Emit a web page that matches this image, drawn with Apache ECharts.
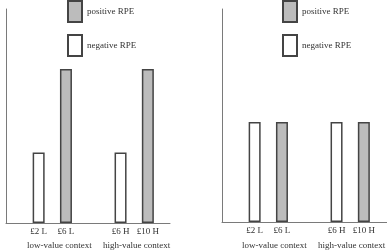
<!DOCTYPE html>
<html>
<head>
<meta charset="utf-8">
<script src="https://cdn.jsdelivr.net/npm/echarts@6/dist/echarts.min.js"></script>
<style>
  html, body { margin: 0; padding: 0; background: #fff; }
  #main { width: 387px; height: 252px; }
</style>
</head>
<body>
<div id="main"></div>
<script>
// categories (empty slot = gap between the two contexts)
var categories = ['£2 L', '£6 L', '', '£6 H', '£10 H'];
var contexts = ['low-value context', 'high-value context'];

// left panel: unequal RPE
var leftNegative = [3.3, '-', '-', 3.3, '-'];
var leftPositive = ['-', 7.2, '-', '-', 7.2];
// right panel: equal RPE
var rightNegative = [4.7, '-', '-', 4.7, '-'];
var rightPositive = ['-', 4.7, '-', '-', 4.7];

var font = 'Liberation Serif';
var axisColor = '#7a7a7a';
var edge = '#444';
var greyFill = '#bcbcbc';

var chart = echarts.init(document.getElementById('main'));

function frameX(i) {
  return {
    type: 'value', gridIndex: i, min: 0, max: 1,
    axisLine: { show: true, lineStyle: { color: axisColor, width: 1 } },
    axisTick: { show: false }, axisLabel: { show: false }, splitLine: { show: false }
  };
}
function frameY(i) {
  return {
    type: 'value', gridIndex: i, min: 0, max: 1,
    axisLine: { show: true, lineStyle: { color: axisColor, width: 1 } },
    axisTick: { show: false }, axisLabel: { show: false }, splitLine: { show: false }
  };
}
function barX(i) {
  return {
    type: 'category', gridIndex: i, data: categories,
    axisLine: { show: false }, axisTick: { show: false }, splitLine: { show: false },
    axisLabel: { margin: 4, color: '#333', fontFamily: font, fontSize: 9, interval: 0 }
  };
}
function barY(i) {
  return {
    type: 'value', gridIndex: i, min: 0, max: 10, show: false
  };
}
function bars(name, data, fill, idx) {
  return {
    name: name, type: 'bar', xAxisIndex: idx, yAxisIndex: idx,
    data: data, barWidth: 12, barGap: '-100%',
    itemStyle: { color: fill, borderColor: edge, borderWidth: 1.5 }
  };
}
function legendAt(left) {
  return {
    data: ['positive RPE', 'negative RPE'],
    orient: 'vertical', left: left, top: 0, padding: 0,
    itemWidth: 14, itemHeight: 21, itemGap: 11,
    icon: 'rect',
    textStyle: { fontFamily: font, fontSize: 9, color: '#333' }
  };
}
function contextText(x, text) {
  return {
    type: 'text', left: x, top: 241,
    style: { text: text, font: '9px "Liberation Serif"', fill: '#333' }
  };
}

chart.setOption({
  animation: false,
  grid: [
    { left: 6, width: 164, top: 9, bottom: 29 },
    { left: 25, width: 136.5, top: 9, bottom: 29 },
    { left: 222, right: 0, top: 9, bottom: 30 },
    { left: 241, width: 136.5, top: 9, bottom: 30 }
  ],
  xAxis: [frameX(0), barX(1), frameX(2), barX(3)],
  yAxis: [frameY(0), barY(1), frameY(2), barY(3)],
  legend: [legendAt(67), legendAt(282)],
  series: [
    bars('positive RPE', leftPositive, greyFill, 1),
    bars('negative RPE', leftNegative, '#fff', 1),
    bars('positive RPE', rightPositive, greyFill, 3),
    bars('negative RPE', rightNegative, '#fff', 3)
  ],
  graphic: [
    contextText(27, contexts[0]),
    contextText(103, contexts[1]),
    contextText(242, contexts[0]),
    contextText(318, contexts[1])
  ]
});
</script>
</body>
</html>
